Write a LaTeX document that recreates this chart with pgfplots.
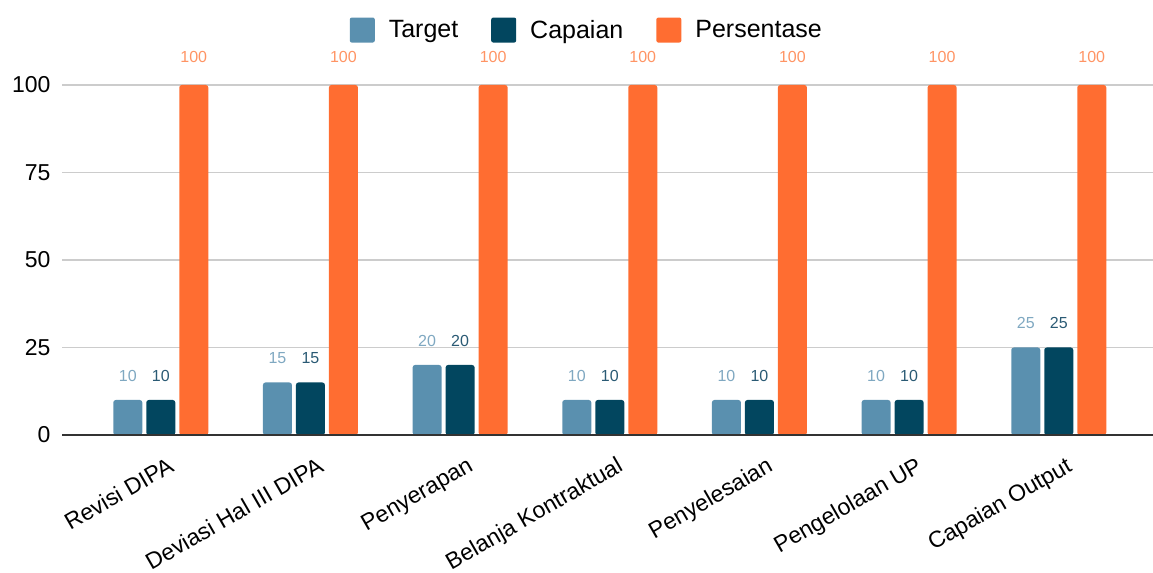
\documentclass[border=0pt]{standalone}
\usepackage{fontspec}
\setmainfont{Liberation Sans}
\usepackage{pgfplots}
\pgfplotsset{compat=1.18}

\definecolor{cTarget}{HTML}{5A90AF}
\definecolor{cCapaian}{HTML}{02465F}
\definecolor{cPersen}{HTML}{FF6D31}
\definecolor{lTarget}{HTML}{7FA8C1}
\definecolor{lCapaian}{HTML}{2A5A74}
\definecolor{lPersen}{HTML}{FF9464}
\definecolor{gridgrey}{HTML}{CCCCCC}
\definecolor{axisdark}{HTML}{333333}

\begin{document}
\begin{tikzpicture}
\begin{axis}[
  at={(62bp,138bp)}, anchor=south west,
  scale only axis,
  width=1091bp, height=350bp,
  ybar=4bp, bar width=29bp,
  xmin=-0.66, xmax=6.63,
  ymin=0, ymax=100,
  ytick={0,25,50,75,100},
  xtick=data,
  xticklabels={Revisi DIPA, Deviasi Hal III DIPA, Penyerapan, Belanja Kontraktual, Penyelesaian, Pengelolaan UP, Capaian Output},
  x tick label style={rotate=30, anchor=north east, font=\fontsize{23bp}{25bp}\selectfont, inner sep=2bp, yshift=-19bp, xshift=-3bp},
  y tick label style={font=\fontsize{23bp}{24bp}\selectfont, xshift=-8bp},
  /pgf/number format/assume math mode=true,
  major tick length=0pt,
  axis line style={draw=none},
  ymajorgrids, grid style={gridgrey, line width=1.3bp},
  clip=false,
  nodes near coords,
  every node near coord/.append style={font=\fontsize{16bp}{18bp}\selectfont, yshift=15bp},
  legend style={draw=none, fill=none, at={(0.481,1.157)}, anchor=center,
    legend columns=-1, font=\fontsize{25bp}{28bp}\selectfont,
    /tikz/every even column/.append style={column sep=31bp},
    /tikz/every odd column/.append style={column sep=12bp}},
  legend image code/.code={\fill[#1, rounded corners=2bp] (0bp,-12.5bp) rectangle (25bp,12.5bp);},
  enlarge x limits=false,
  every axis plot/.append style={rounded corners=2.5bp},
]
\addplot[fill=cTarget, draw=none, every node near coord/.append style={text=lTarget}]
  coordinates {(0,10) (1,15) (2,20) (3,10) (4,10) (5,10) (6,25)};
\addplot[fill=cCapaian, draw=none, every node near coord/.append style={text=lCapaian}]
  coordinates {(0,10) (1,15) (2,20) (3,10) (4,10) (5,10) (6,25)};
\addplot[fill=cPersen, draw=none, every node near coord/.append style={text=lPersen, yshift=4bp}]
  coordinates {(0,100) (1,100) (2,100) (3,100) (4,100) (5,100) (6,100)};
\legend{Target, Capaian, Persentase}
\draw[axisdark, line width=2bp, sharp corners] (axis cs:-0.66,0) -- (axis cs:6.63,0);
\end{axis}
\pgfresetboundingbox
\path[use as bounding box] (0,0) rectangle (1153bp,573bp);
\end{tikzpicture}
\end{document}
